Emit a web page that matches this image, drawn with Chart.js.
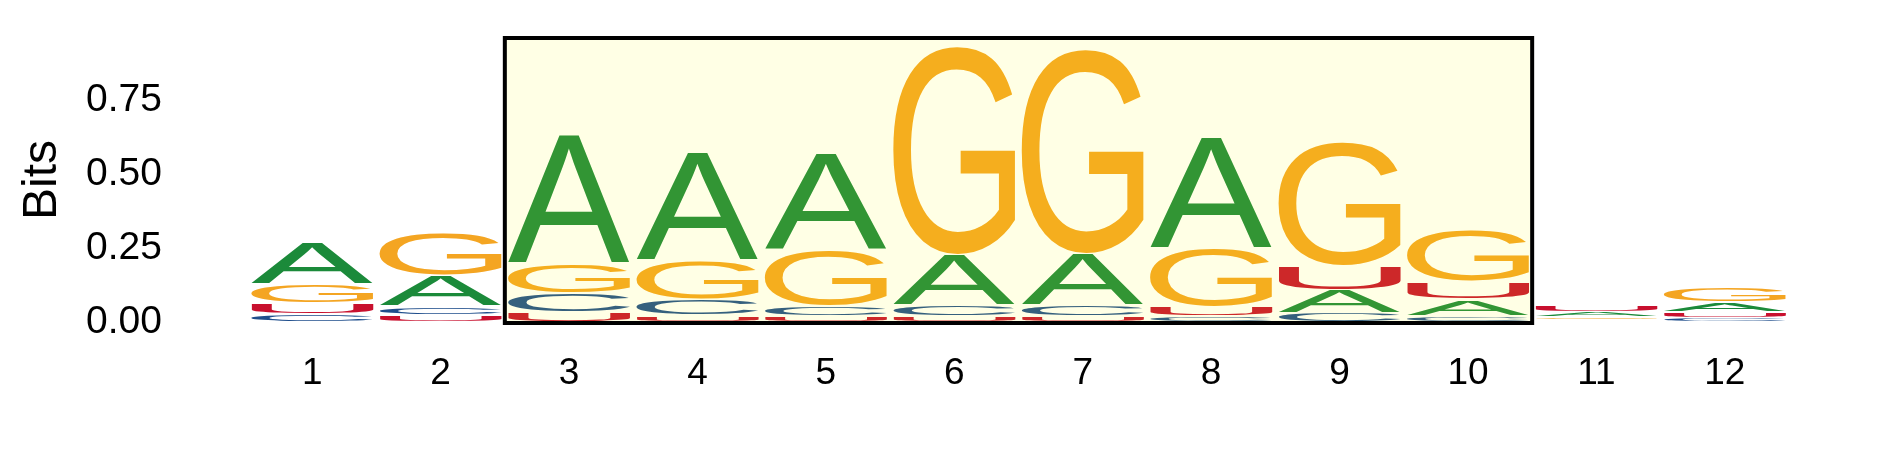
<!DOCTYPE html>
<html>
<head>
<meta charset="utf-8">
<script src="https://cdn.jsdelivr.net/npm/chart.js@4.4.1/dist/chart.umd.min.js"></script>
<style>
  html, body { margin: 0; padding: 0; background: #fff; }
  #wrap { width: 1889px; height: 472px; }
</style>
</head>
<body>
<div id="wrap"><canvas id="logoChart" width="1889" height="472"></canvas></div>
<script>
const positions = ["1", "2", "3", "4", "5", "6", "7", "8", "9", "10", "11", "12"];

// information content (bits) per letter, per position
const bitsA = [0.142, 0.103, 0.439, 0.368, 0.326, 0.171, 0.174, 0.377, 0.077, 0.055, 0.018, 0.032];
const bitsC = [0.027, 0.029, 0.064, 0.054, 0.032, 0.034, 0.034, 0.020, 0.032, 0.022, 0.006, 0.015];
const bitsG = [0.064, 0.145, 0.100, 0.130, 0.188, 0.706, 0.693, 0.196, 0.421, 0.174, 0.011, 0.051];
const bitsU = [0.037, 0.024, 0.032, 0.022, 0.022, 0.022, 0.022, 0.032, 0.081, 0.059, 0.021, 0.020];

const yTicks = [0, 0.25, 0.5, 0.75];
const highlightFrom = 3;
const highlightTo = 10;

const FONT = '"Liberation Sans", Arial, Helvetica, sans-serif';
const letterColors = { A: "#1b8a3a", C: "#1f4e8c", G: "#f4a522", U: "#c8102e" };

const letters = ["A", "C", "G", "U"];
const heights = { A: bitsA, C: bitsC, G: bitsG, U: bitsU };

// smallest letter at the bottom, biggest on top
const ranked = positions.map((p, i) =>
  letters.map((l) => ({ l, h: heights[l][i] })).sort((a, b) => a.h - b.h)
);

const datasets = [0, 1, 2, 3].map((r) => ({
  label: "rank " + r,
  data: ranked.map((s) => s[r].h),
  letters: ranked.map((s) => s[r].l),
  backgroundColor: "rgba(0,0,0,0)",
  borderWidth: 0,
  barPercentage: 0.95,
  categoryPercentage: 1,
}));

function drawLetter(ctx, ch, x0, y0, w, h, color) {
  ctx.save();
  ctx.font = "200px " + FONT;
  const m = ctx.measureText(ch);
  const gw = m.actualBoundingBoxLeft + m.actualBoundingBoxRight;
  const gh = m.actualBoundingBoxAscent + m.actualBoundingBoxDescent;
  ctx.translate(x0, y0);
  ctx.scale(w / gw, h / gh);
  ctx.fillStyle = color;
  ctx.textAlign = "left";
  ctx.textBaseline = "alphabetic";
  ctx.fillText(ch, m.actualBoundingBoxLeft, m.actualBoundingBoxAscent);
  ctx.restore();
}

const logoPlugin = {
  id: "logoLetters",
  afterDatasetsDraw(chart) {
    const ctx = chart.ctx;
    chart.data.datasets.forEach((ds, di) => {
      chart.getDatasetMeta(di).data.forEach((bar, i) => {
        const { x, y, base, width } = bar.getProps(["x", "y", "base", "width"], true);
        const top = Math.min(y, base) + 0.8;
        const h = Math.abs(base - y) - 1.6;
        if (h <= 0.3) return;
        const ch = ds.letters[i];
        drawLetter(ctx, ch, x - width / 2, top, width, h, letterColors[ch]);
      });
    });
  },
  afterDraw(chart) {
    const ctx = chart.ctx;
    const xs = chart.scales.x;
    const ys = chart.scales.y;
    const left = xs.getPixelForValue(highlightFrom - 1.5);
    const right = xs.getPixelForValue(highlightTo - 0.5);
    const top = chart.chartArea.top;
    const bottom = ys.getPixelForValue(0) + 1;
    ctx.save();
    ctx.fillStyle = "rgba(255,255,0,0.1)";
    ctx.fillRect(left, top, right - left, bottom - top);
    ctx.lineWidth = 4;
    ctx.strokeStyle = "#000";
    ctx.strokeRect(left, top, right - left, bottom - top);
    ctx.restore();
  },
};

new Chart(document.getElementById("logoChart"), {
  type: "bar",
  data: { labels: positions, datasets },
  plugins: [logoPlugin],
  options: {
    responsive: false,
    devicePixelRatio: 1,
    animation: false,
    layout: { padding: { top: 38, right: 100, left: 0, bottom: 0 } },
    plugins: { legend: { display: false }, tooltip: { enabled: false } },
    scales: {
      x: {
        stacked: true,
        offset: true,
        grid: { display: false },
        border: { display: false },
        ticks: { color: "#000", font: { family: FONT, size: 37 }, padding: 22, maxRotation: 0, autoSkip: false },
        afterFit(s) { s.height = 150; },
      },
      y: {
        stacked: true,
        min: 0,
        max: 0.96,
        // invisible tick marks push the labels away from the plot
        grid: { display: true, drawOnChartArea: false, drawTicks: true, tickLength: 86, color: "rgba(0,0,0,0)" },
        border: { display: false },
        afterBuildTicks(s) { s.ticks = yTicks.map((v) => ({ value: v })); },
        ticks: {
          color: "#000",
          font: { family: FONT, size: 39 },
          padding: 0,
          callback: (v) => Number(v).toFixed(2),
        },
        title: {
          display: true,
          text: "Bits",
          color: "#000",
          font: { family: FONT, size: 48 },
          padding: { top: 14, bottom: 0 },
        },
        afterFit(s) { s.width = 248; },
      },
    },
  },
});
</script>
</body>
</html>
